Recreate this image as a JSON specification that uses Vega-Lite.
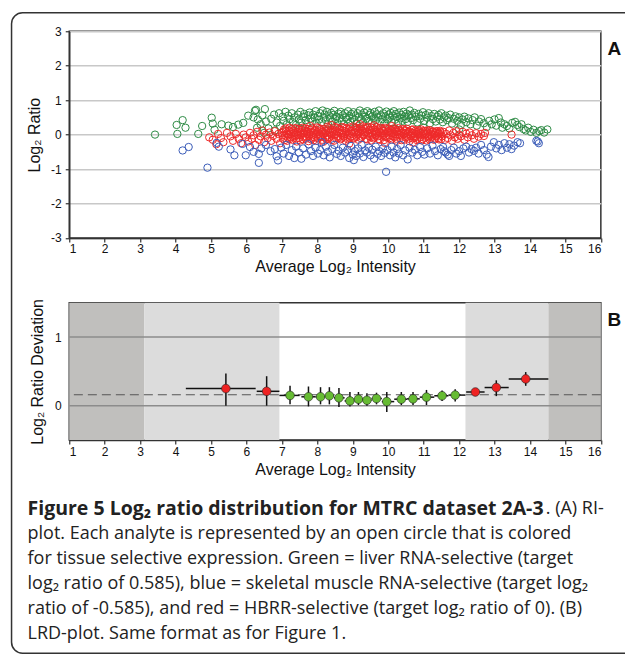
{
  "$schema": "https://vega.github.io/schema/vega-lite/v6.json",
  "background": "white",
  "padding": {"left": 9.25, "top": 11.25, "right": -18, "bottom": 0},
  "bounds": "flush",
  "spacing": 64.5,
  "config": {
    "font": "Liberation Sans",
    "view": {"stroke": "#333333", "strokeWidth": 1.5},
    "axis": {
      "labelFont": "Liberation Sans", "labelFontSize": 12, "labelColor": "#111111", "labelOverlap": false, "labelExpr": "'' + datum.value",
      "titleFont": "Liberation Sans", "titleFontSize": 16, "titleFontWeight": "normal", "titleColor": "#111111",
      "domainColor": "#333333", "domainWidth": 1.5, "tickColor": "#333333", "tickWidth": 1.2, "tickSize": 4
    }
  },
  "datasets": {
    "ri": [
      {"x":3.42,"y":0.00,"c":"G"},{"x":4.03,"y":0.28,"c":"G"},{"x":4.05,"y":0.02,"c":"G"},{"x":4.20,"y":0.42,"c":"G"},{"x":4.28,"y":0.20,"c":"G"},
      {"x":4.64,"y":0.02,"c":"G"},{"x":4.75,"y":0.25,"c":"G"},{"x":5.02,"y":0.49,"c":"G"},{"x":5.05,"y":0.32,"c":"G"},{"x":5.10,"y":0.14,"c":"G"},
      {"x":5.30,"y":0.30,"c":"G"},{"x":5.49,"y":0.26,"c":"G"},{"x":5.62,"y":0.22,"c":"G"},{"x":5.77,"y":0.29,"c":"G"},{"x":5.91,"y":0.34,"c":"G"},
      {"x":6.05,"y":0.55,"c":"G"},{"x":6.20,"y":0.50,"c":"G"},{"x":6.24,"y":0.69,"c":"G"},{"x":6.27,"y":0.72,"c":"G"},{"x":6.32,"y":0.44,"c":"G"},
      {"x":6.40,"y":0.30,"c":"G"},{"x":6.45,"y":0.56,"c":"G"},{"x":6.52,"y":0.74,"c":"G"},{"x":6.55,"y":0.38,"c":"G"},{"x":6.62,"y":0.18,"c":"G"},
      {"x":6.70,"y":0.46,"c":"G"},{"x":6.78,"y":0.58,"c":"G"},{"x":6.85,"y":0.35,"c":"G"},{"x":6.92,"y":0.62,"c":"G"},{"x":6.95,"y":0.25,"c":"G"},
      {"x":6.30,"y":0.20,"c":"G"},{"x":6.50,"y":0.05,"c":"G"},{"x":6.80,"y":0.12,"c":"G"},
      {"x":7.02,"y":0.52,"c":"G"},{"x":7.05,"y":0.40,"c":"G"},{"x":7.10,"y":0.66,"c":"G"},{"x":7.14,"y":0.30,"c":"G"},{"x":7.18,"y":0.55,"c":"G"},
      {"x":7.22,"y":0.45,"c":"G"},{"x":7.28,"y":0.62,"c":"G"},{"x":7.31,"y":0.36,"c":"G"},{"x":7.36,"y":0.50,"c":"G"},{"x":7.40,"y":0.28,"c":"G"},
      {"x":7.45,"y":0.58,"c":"G"},{"x":7.48,"y":0.44,"c":"G"},{"x":7.52,"y":0.66,"c":"G"},{"x":7.55,"y":0.35,"c":"G"},{"x":7.60,"y":0.52,"c":"G"},
      {"x":7.63,"y":0.60,"c":"G"},{"x":7.67,"y":0.42,"c":"G"},{"x":7.70,"y":0.30,"c":"G"},{"x":7.74,"y":0.56,"c":"G"},{"x":7.78,"y":0.64,"c":"G"},
      {"x":7.81,"y":0.47,"c":"G"},{"x":7.85,"y":0.38,"c":"G"},{"x":7.88,"y":0.58,"c":"G"},{"x":7.92,"y":0.50,"c":"G"},{"x":7.95,"y":0.68,"c":"G"},
      {"x":7.98,"y":0.33,"c":"G"},{"x":7.50,"y":0.18,"c":"G"},
      {"x":8.02,"y":0.54,"c":"G"},{"x":8.05,"y":0.44,"c":"G"},{"x":8.08,"y":0.62,"c":"G"},{"x":8.12,"y":0.36,"c":"G"},{"x":8.15,"y":0.70,"c":"G"},
      {"x":8.18,"y":0.50,"c":"G"},{"x":8.21,"y":0.58,"c":"G"},{"x":8.24,"y":0.42,"c":"G"},{"x":8.27,"y":0.66,"c":"G"},{"x":8.30,"y":0.30,"c":"G"},
      {"x":8.33,"y":0.55,"c":"G"},{"x":8.36,"y":0.47,"c":"G"},{"x":8.39,"y":0.63,"c":"G"},{"x":8.42,"y":0.38,"c":"G"},{"x":8.45,"y":0.57,"c":"G"},
      {"x":8.48,"y":0.69,"c":"G"},{"x":8.51,"y":0.45,"c":"G"},{"x":8.54,"y":0.52,"c":"G"},{"x":8.57,"y":0.34,"c":"G"},{"x":8.60,"y":0.61,"c":"G"},
      {"x":8.63,"y":0.48,"c":"G"},{"x":8.66,"y":0.66,"c":"G"},{"x":8.69,"y":0.40,"c":"G"},{"x":8.72,"y":0.56,"c":"G"},{"x":8.75,"y":0.30,"c":"G"},
      {"x":8.78,"y":0.62,"c":"G"},{"x":8.81,"y":0.50,"c":"G"},{"x":8.84,"y":0.44,"c":"G"},{"x":8.87,"y":0.68,"c":"G"},{"x":8.90,"y":0.54,"c":"G"},
      {"x":8.93,"y":0.37,"c":"G"},{"x":8.96,"y":0.60,"c":"G"},{"x":8.99,"y":0.47,"c":"G"},{"x":8.30,"y":0.15,"c":"G"},
      {"x":9.02,"y":0.65,"c":"G"},{"x":9.05,"y":0.42,"c":"G"},{"x":9.08,"y":0.55,"c":"G"},{"x":9.11,"y":0.32,"c":"G"},{"x":9.14,"y":0.62,"c":"G"},
      {"x":9.17,"y":0.50,"c":"G"},{"x":9.20,"y":0.70,"c":"G"},{"x":9.23,"y":0.44,"c":"G"},{"x":9.26,"y":0.58,"c":"G"},{"x":9.29,"y":0.36,"c":"G"},
      {"x":9.32,"y":0.64,"c":"G"},{"x":9.35,"y":0.52,"c":"G"},{"x":9.38,"y":0.46,"c":"G"},{"x":9.41,"y":0.68,"c":"G"},{"x":9.44,"y":0.40,"c":"G"},
      {"x":9.47,"y":0.57,"c":"G"},{"x":9.50,"y":0.63,"c":"G"},{"x":9.53,"y":0.33,"c":"G"},{"x":9.56,"y":0.54,"c":"G"},{"x":9.59,"y":0.48,"c":"G"},
      {"x":9.62,"y":0.66,"c":"G"},{"x":9.65,"y":0.42,"c":"G"},{"x":9.68,"y":0.59,"c":"G"},{"x":9.71,"y":0.50,"c":"G"},{"x":9.74,"y":0.70,"c":"G"},
      {"x":9.77,"y":0.38,"c":"G"},{"x":9.80,"y":0.56,"c":"G"},{"x":9.83,"y":0.45,"c":"G"},{"x":9.86,"y":0.62,"c":"G"},{"x":9.89,"y":0.31,"c":"G"},
      {"x":9.92,"y":0.53,"c":"G"},{"x":9.95,"y":0.67,"c":"G"},{"x":9.98,"y":0.44,"c":"G"},{"x":9.10,"y":0.20,"c":"G"},
      {"x":10.01,"y":0.58,"c":"G"},{"x":10.04,"y":0.49,"c":"G"},{"x":10.07,"y":0.63,"c":"G"},{"x":10.10,"y":0.36,"c":"G"},{"x":10.13,"y":0.55,"c":"G"},
      {"x":10.16,"y":0.68,"c":"G"},{"x":10.19,"y":0.43,"c":"G"},{"x":10.22,"y":0.60,"c":"G"},{"x":10.25,"y":0.51,"c":"G"},{"x":10.28,"y":0.34,"c":"G"},
      {"x":10.31,"y":0.64,"c":"G"},{"x":10.34,"y":0.47,"c":"G"},{"x":10.37,"y":0.57,"c":"G"},{"x":10.40,"y":0.40,"c":"G"},{"x":10.43,"y":0.66,"c":"G"},
      {"x":10.46,"y":0.53,"c":"G"},{"x":10.49,"y":0.45,"c":"G"},{"x":10.52,"y":0.61,"c":"G"},{"x":10.55,"y":0.37,"c":"G"},{"x":10.58,"y":0.56,"c":"G"},
      {"x":10.61,"y":0.70,"c":"G"},{"x":10.64,"y":0.48,"c":"G"},{"x":10.67,"y":0.58,"c":"G"},{"x":10.70,"y":0.42,"c":"G"},{"x":10.74,"y":0.63,"c":"G"},
      {"x":10.78,"y":0.52,"c":"G"},{"x":10.82,"y":0.35,"c":"G"},{"x":10.86,"y":0.60,"c":"G"},{"x":10.90,"y":0.46,"c":"G"},{"x":10.94,"y":0.55,"c":"G"},
      {"x":10.98,"y":0.65,"c":"G"},{"x":10.20,"y":0.17,"c":"G"},
      {"x":11.02,"y":0.40,"c":"G"},{"x":11.06,"y":0.57,"c":"G"},{"x":11.10,"y":0.49,"c":"G"},{"x":11.14,"y":0.62,"c":"G"},{"x":11.18,"y":0.33,"c":"G"},
      {"x":11.22,"y":0.54,"c":"G"},{"x":11.26,"y":0.45,"c":"G"},{"x":11.30,"y":0.60,"c":"G"},{"x":11.34,"y":0.38,"c":"G"},{"x":11.38,"y":0.52,"c":"G"},
      {"x":11.42,"y":0.57,"c":"G"},{"x":11.46,"y":0.44,"c":"G"},{"x":11.50,"y":0.62,"c":"G"},{"x":11.54,"y":0.36,"c":"G"},{"x":11.58,"y":0.50,"c":"G"},
      {"x":11.62,"y":0.55,"c":"G"},{"x":11.66,"y":0.42,"c":"G"},{"x":11.70,"y":0.48,"c":"G"},{"x":11.75,"y":0.58,"c":"G"},{"x":11.80,"y":0.32,"c":"G"},
      {"x":11.85,"y":0.46,"c":"G"},{"x":11.90,"y":0.53,"c":"G"},{"x":11.95,"y":0.40,"c":"G"},{"x":11.00,"y":0.20,"c":"G"},
      {"x":12.00,"y":0.50,"c":"G"},{"x":12.05,"y":0.28,"c":"G"},{"x":12.10,"y":0.44,"c":"G"},{"x":12.15,"y":0.52,"c":"G"},{"x":12.20,"y":0.36,"c":"G"},
      {"x":12.26,"y":0.47,"c":"G"},{"x":12.32,"y":0.30,"c":"G"},{"x":12.38,"y":0.42,"c":"G"},{"x":12.44,"y":0.50,"c":"G"},{"x":12.50,"y":0.26,"c":"G"},
      {"x":12.56,"y":0.38,"c":"G"},{"x":12.62,"y":0.45,"c":"G"},{"x":12.70,"y":0.33,"c":"G"},{"x":12.78,"y":0.22,"c":"G"},{"x":12.85,"y":0.40,"c":"G"},
      {"x":12.92,"y":0.30,"c":"G"},{"x":12.00,"y":0.15,"c":"G"},
      {"x":13.00,"y":0.44,"c":"G"},{"x":13.05,"y":0.26,"c":"G"},{"x":13.12,"y":0.48,"c":"G"},{"x":13.18,"y":0.35,"c":"G"},{"x":13.22,"y":0.20,"c":"G"},
      {"x":13.28,"y":0.30,"c":"G"},{"x":13.35,"y":0.25,"c":"G"},{"x":13.42,"y":0.18,"c":"G"},{"x":13.50,"y":0.34,"c":"G"},{"x":13.58,"y":0.37,"c":"G"},
      {"x":13.64,"y":0.28,"c":"G"},{"x":13.70,"y":0.22,"c":"G"},{"x":13.76,"y":0.30,"c":"G"},{"x":13.82,"y":0.16,"c":"G"},{"x":13.88,"y":0.12,"c":"G"},
      {"x":13.95,"y":0.20,"c":"G"},{"x":14.02,"y":0.08,"c":"G"},{"x":14.10,"y":0.14,"c":"G"},{"x":14.18,"y":0.05,"c":"G"},{"x":14.26,"y":0.10,"c":"G"},
      {"x":14.32,"y":0.13,"c":"G"},{"x":14.40,"y":0.06,"c":"G"},{"x":14.49,"y":0.15,"c":"G"},

      {"x":4.95,"y":-0.08,"c":"R"},{"x":5.05,"y":-0.15,"c":"R"},{"x":5.15,"y":-0.28,"c":"R"},{"x":5.20,"y":0.02,"c":"R"},{"x":5.28,"y":-0.10,"c":"R"},
      {"x":5.35,"y":-0.22,"c":"R"},{"x":5.45,"y":0.05,"c":"R"},{"x":5.55,"y":-0.05,"c":"R"},{"x":5.62,"y":-0.18,"c":"R"},{"x":5.70,"y":0.02,"c":"R"},
      {"x":5.78,"y":-0.12,"c":"R"},{"x":5.85,"y":-0.25,"c":"R"},{"x":5.92,"y":0.00,"c":"R"},{"x":5.98,"y":-0.08,"c":"R"},{"x":6.05,"y":-0.20,"c":"R"},
      {"x":6.10,"y":0.05,"c":"R"},{"x":6.15,"y":-0.12,"c":"R"},{"x":6.20,"y":-0.02,"c":"R"},{"x":6.25,"y":-0.30,"c":"R"},{"x":6.30,"y":0.08,"c":"R"},
      {"x":6.35,"y":-0.15,"c":"R"},{"x":6.40,"y":-0.05,"c":"R"},{"x":6.45,"y":0.12,"c":"R"},{"x":6.50,"y":-0.22,"c":"R"},{"x":6.55,"y":0.00,"c":"R"},
      {"x":6.60,"y":-0.10,"c":"R"},{"x":6.65,"y":0.06,"c":"R"},{"x":6.70,"y":-0.18,"c":"R"},{"x":6.75,"y":-0.04,"c":"R"},{"x":6.80,"y":0.10,"c":"R"},
      {"x":6.85,"y":-0.12,"c":"R"},{"x":6.90,"y":0.02,"c":"R"},{"x":6.95,"y":-0.25,"c":"R"},
      {"x":7.00,"y":0.05,"c":"R"},{"x":7.03,"y":-0.12,"c":"R"},{"x":7.06,"y":0.15,"c":"R"},{"x":7.09,"y":-0.03,"c":"R"},{"x":7.12,"y":0.10,"c":"R"},
      {"x":7.15,"y":-0.18,"c":"R"},{"x":7.18,"y":0.00,"c":"R"},{"x":7.21,"y":0.20,"c":"R"},{"x":7.24,"y":-0.08,"c":"R"},{"x":7.27,"y":0.07,"c":"R"},
      {"x":7.30,"y":-0.15,"c":"R"},{"x":7.33,"y":0.12,"c":"R"},{"x":7.36,"y":-0.05,"c":"R"},{"x":7.39,"y":0.03,"c":"R"},{"x":7.42,"y":-0.20,"c":"R"},
      {"x":7.45,"y":0.17,"c":"R"},{"x":7.48,"y":-0.10,"c":"R"},{"x":7.51,"y":0.08,"c":"R"},{"x":7.54,"y":-0.01,"c":"R"},{"x":7.57,"y":0.13,"c":"R"},
      {"x":7.60,"y":-0.14,"c":"R"},{"x":7.63,"y":0.04,"c":"R"},{"x":7.66,"y":0.18,"c":"R"},{"x":7.69,"y":-0.06,"c":"R"},{"x":7.72,"y":0.09,"c":"R"},
      {"x":7.75,"y":-0.19,"c":"R"},{"x":7.78,"y":0.01,"c":"R"},{"x":7.81,"y":0.14,"c":"R"},{"x":7.84,"y":-0.09,"c":"R"},{"x":7.87,"y":0.06,"c":"R"},
      {"x":7.90,"y":-0.16,"c":"R"},{"x":7.93,"y":0.11,"c":"R"},{"x":7.96,"y":-0.03,"c":"R"},{"x":7.99,"y":0.21,"c":"R"},{"x":7.80,"y":0.25,"c":"R"},
      {"x":8.02,"y":-0.11,"c":"R"},{"x":8.05,"y":0.02,"c":"R"},{"x":8.08,"y":0.16,"c":"R"},{"x":8.11,"y":-0.07,"c":"R"},{"x":8.14,"y":0.08,"c":"R"},
      {"x":8.17,"y":-0.21,"c":"R"},{"x":8.20,"y":0.05,"c":"R"},{"x":8.23,"y":0.12,"c":"R"},{"x":8.26,"y":-0.13,"c":"R"},{"x":8.29,"y":-0.02,"c":"R"},
      {"x":8.32,"y":0.19,"c":"R"},{"x":8.35,"y":-0.08,"c":"R"},{"x":8.38,"y":0.06,"c":"R"},{"x":8.41,"y":-0.16,"c":"R"},{"x":8.44,"y":0.14,"c":"R"},
      {"x":8.47,"y":0.00,"c":"R"},{"x":8.50,"y":0.22,"c":"R"},{"x":8.53,"y":-0.10,"c":"R"},{"x":8.56,"y":0.09,"c":"R"},{"x":8.59,"y":-0.04,"c":"R"},
      {"x":8.62,"y":0.17,"c":"R"},{"x":8.65,"y":-0.14,"c":"R"},{"x":8.68,"y":0.03,"c":"R"},{"x":8.71,"y":0.12,"c":"R"},{"x":8.74,"y":-0.06,"c":"R"},
      {"x":8.77,"y":0.20,"c":"R"},{"x":8.80,"y":-0.18,"c":"R"},{"x":8.83,"y":0.07,"c":"R"},{"x":8.86,"y":-0.01,"c":"R"},{"x":8.89,"y":0.15,"c":"R"},
      {"x":8.92,"y":-0.11,"c":"R"},{"x":8.95,"y":0.10,"c":"R"},{"x":8.98,"y":0.02,"c":"R"},{"x":8.40,"y":0.28,"c":"R"},{"x":8.90,"y":-0.26,"c":"R"},
      {"x":9.01,"y":0.24,"c":"R"},{"x":9.04,"y":-0.09,"c":"R"},{"x":9.07,"y":0.13,"c":"R"},{"x":9.10,"y":-0.03,"c":"R"},{"x":9.13,"y":0.18,"c":"R"},
      {"x":9.16,"y":-0.15,"c":"R"},{"x":9.19,"y":0.06,"c":"R"},{"x":9.22,"y":0.21,"c":"R"},{"x":9.25,"y":-0.06,"c":"R"},{"x":9.28,"y":0.11,"c":"R"},
      {"x":9.31,"y":0.01,"c":"R"},{"x":9.34,"y":0.16,"c":"R"},{"x":9.37,"y":-0.12,"c":"R"},{"x":9.40,"y":0.08,"c":"R"},{"x":9.43,"y":0.23,"c":"R"},
      {"x":9.46,"y":-0.04,"c":"R"},{"x":9.49,"y":0.14,"c":"R"},{"x":9.52,"y":-0.17,"c":"R"},{"x":9.55,"y":0.05,"c":"R"},{"x":9.58,"y":0.19,"c":"R"},
      {"x":9.61,"y":-0.08,"c":"R"},{"x":9.64,"y":0.10,"c":"R"},{"x":9.67,"y":-0.01,"c":"R"},{"x":9.70,"y":0.15,"c":"R"},{"x":9.73,"y":-0.13,"c":"R"},
      {"x":9.76,"y":0.07,"c":"R"},{"x":9.79,"y":0.20,"c":"R"},{"x":9.82,"y":-0.05,"c":"R"},{"x":9.85,"y":0.12,"c":"R"},{"x":9.88,"y":-0.16,"c":"R"},
      {"x":9.91,"y":0.03,"c":"R"},{"x":9.94,"y":0.17,"c":"R"},{"x":9.97,"y":-0.09,"c":"R"},{"x":9.20,"y":0.30,"c":"R"},{"x":9.60,"y":0.27,"c":"R"},{"x":9.90,"y":-0.24,"c":"R"},
      {"x":10.00,"y":0.09,"c":"R"},{"x":10.03,"y":-0.02,"c":"R"},{"x":10.06,"y":0.14,"c":"R"},{"x":10.09,"y":-0.14,"c":"R"},{"x":10.12,"y":0.04,"c":"R"},
      {"x":10.15,"y":0.18,"c":"R"},{"x":10.18,"y":-0.07,"c":"R"},{"x":10.21,"y":0.10,"c":"R"},{"x":10.24,"y":-0.18,"c":"R"},{"x":10.27,"y":0.01,"c":"R"},
      {"x":10.30,"y":0.13,"c":"R"},{"x":10.33,"y":-0.10,"c":"R"},{"x":10.36,"y":0.06,"c":"R"},{"x":10.39,"y":-0.03,"c":"R"},{"x":10.42,"y":0.16,"c":"R"},
      {"x":10.45,"y":-0.15,"c":"R"},{"x":10.48,"y":0.05,"c":"R"},{"x":10.51,"y":0.11,"c":"R"},{"x":10.54,"y":-0.06,"c":"R"},{"x":10.57,"y":0.08,"c":"R"},
      {"x":10.60,"y":-0.19,"c":"R"},{"x":10.63,"y":0.00,"c":"R"},{"x":10.66,"y":0.14,"c":"R"},{"x":10.69,"y":-0.11,"c":"R"},{"x":10.72,"y":0.04,"c":"R"},
      {"x":10.75,"y":-0.04,"c":"R"},{"x":10.78,"y":0.12,"c":"R"},{"x":10.81,"y":-0.16,"c":"R"},{"x":10.84,"y":0.02,"c":"R"},{"x":10.87,"y":0.09,"c":"R"},
      {"x":10.90,"y":-0.08,"c":"R"},{"x":10.93,"y":0.15,"c":"R"},{"x":10.96,"y":-0.13,"c":"R"},{"x":10.99,"y":0.03,"c":"R"},{"x":10.10,"y":0.25,"c":"R"},{"x":10.70,"y":-0.23,"c":"R"},
      {"x":11.02,"y":-0.02,"c":"R"},{"x":11.05,"y":0.11,"c":"R"},{"x":11.08,"y":-0.17,"c":"R"},{"x":11.11,"y":0.06,"c":"R"},{"x":11.14,"y":-0.07,"c":"R"},
      {"x":11.17,"y":0.13,"c":"R"},{"x":11.20,"y":-0.12,"c":"R"},{"x":11.23,"y":0.01,"c":"R"},{"x":11.26,"y":0.08,"c":"R"},{"x":11.29,"y":-0.15,"c":"R"},
      {"x":11.32,"y":0.04,"c":"R"},{"x":11.35,"y":-0.05,"c":"R"},{"x":11.38,"y":0.10,"c":"R"},{"x":11.41,"y":-0.10,"c":"R"},{"x":11.44,"y":0.02,"c":"R"},
      {"x":11.47,"y":0.07,"c":"R"},{"x":11.50,"y":-0.13,"c":"R"},
      {"x":7.015,"y":-0.02,"c":"R"},{"x":7.045,"y":0.09,"c":"R"},{"x":7.075,"y":-0.16,"c":"R"},{"x":7.105,"y":0.18,"c":"R"},{"x":7.135,"y":0.03,"c":"R"},
      {"x":7.165,"y":-0.09,"c":"R"},{"x":7.195,"y":0.12,"c":"R"},{"x":7.225,"y":-0.13,"c":"R"},{"x":7.255,"y":0.01,"c":"R"},{"x":7.285,"y":0.16,"c":"R"},
      {"x":7.315,"y":-0.06,"c":"R"},{"x":7.345,"y":0.05,"c":"R"},{"x":7.375,"y":0.19,"c":"R"},{"x":7.405,"y":-0.11,"c":"R"},{"x":7.435,"y":0.07,"c":"R"},
      {"x":7.465,"y":-0.02,"c":"R"},{"x":7.495,"y":0.14,"c":"R"},{"x":7.525,"y":-0.17,"c":"R"},{"x":7.555,"y":0.04,"c":"R"},{"x":7.585,"y":0.20,"c":"R"},
      {"x":7.615,"y":-0.07,"c":"R"},{"x":7.645,"y":0.10,"c":"R"},{"x":7.675,"y":-0.12,"c":"R"},{"x":7.705,"y":0.02,"c":"R"},{"x":7.735,"y":0.16,"c":"R"},
      {"x":7.765,"y":-0.04,"c":"R"},{"x":7.795,"y":0.08,"c":"R"},{"x":7.825,"y":-0.14,"c":"R"},{"x":7.855,"y":0.18,"c":"R"},{"x":7.885,"y":0.00,"c":"R"},
      {"x":7.915,"y":-0.08,"c":"R"},{"x":7.945,"y":0.13,"c":"R"},{"x":7.975,"y":-0.18,"c":"R"},
      {"x":8.015,"y":0.07,"c":"R"},{"x":8.045,"y":0.19,"c":"R"},{"x":8.075,"y":-0.05,"c":"R"},{"x":8.105,"y":0.12,"c":"R"},{"x":8.135,"y":-0.15,"c":"R"},
      {"x":8.165,"y":0.01,"c":"R"},{"x":8.195,"y":0.17,"c":"R"},{"x":8.225,"y":-0.09,"c":"R"},{"x":8.255,"y":0.09,"c":"R"},{"x":8.285,"y":0.23,"c":"R"},
      {"x":8.315,"y":-0.12,"c":"R"},{"x":8.345,"y":0.04,"c":"R"},{"x":8.375,"y":0.15,"c":"R"},{"x":8.405,"y":-0.03,"c":"R"},{"x":8.435,"y":0.08,"c":"R"},
      {"x":8.465,"y":-0.18,"c":"R"},{"x":8.495,"y":0.11,"c":"R"},{"x":8.525,"y":0.02,"c":"R"},{"x":8.555,"y":0.20,"c":"R"},{"x":8.585,"y":-0.09,"c":"R"},
      {"x":8.615,"y":0.05,"c":"R"},{"x":8.645,"y":0.13,"c":"R"},{"x":8.675,"y":-0.11,"c":"R"},{"x":8.705,"y":0.22,"c":"R"},{"x":8.735,"y":0.00,"c":"R"},
      {"x":8.765,"y":-0.06,"c":"R"},{"x":8.795,"y":0.10,"c":"R"},{"x":8.825,"y":0.18,"c":"R"},{"x":8.855,"y":-0.13,"c":"R"},{"x":8.885,"y":0.04,"c":"R"},
      {"x":8.915,"y":0.21,"c":"R"},{"x":8.945,"y":-0.05,"c":"R"},{"x":8.975,"y":0.12,"c":"R"},
      {"x":9.015,"y":-0.12,"c":"R"},{"x":9.045,"y":0.06,"c":"R"},{"x":9.075,"y":0.20,"c":"R"},{"x":9.105,"y":-0.07,"c":"R"},{"x":9.135,"y":0.09,"c":"R"},
      {"x":9.165,"y":0.02,"c":"R"},{"x":9.195,"y":0.17,"c":"R"},{"x":9.225,"y":-0.10,"c":"R"},{"x":9.255,"y":0.13,"c":"R"},{"x":9.285,"y":0.24,"c":"R"},
      {"x":9.315,"y":-0.02,"c":"R"},{"x":9.345,"y":0.07,"c":"R"},{"x":9.375,"y":0.19,"c":"R"},{"x":9.405,"y":-0.14,"c":"R"},{"x":9.435,"y":0.03,"c":"R"},
      {"x":9.465,"y":0.12,"c":"R"},{"x":9.495,"y":-0.07,"c":"R"},{"x":9.525,"y":0.21,"c":"R"},{"x":9.555,"y":0.00,"c":"R"},{"x":9.585,"y":-0.11,"c":"R"},
      {"x":9.615,"y":0.14,"c":"R"},{"x":9.645,"y":0.06,"c":"R"},{"x":9.675,"y":0.22,"c":"R"},{"x":9.705,"y":-0.05,"c":"R"},{"x":9.735,"y":0.09,"c":"R"},
      {"x":9.765,"y":-0.15,"c":"R"},{"x":9.795,"y":0.04,"c":"R"},{"x":9.825,"y":0.16,"c":"R"},{"x":9.855,"y":-0.02,"c":"R"},{"x":9.885,"y":0.11,"c":"R"},
      {"x":9.915,"y":0.20,"c":"R"},{"x":9.945,"y":-0.07,"c":"R"},{"x":9.975,"y":0.06,"c":"R"},
      {"x":10.015,"y":0.17,"c":"R"},{"x":10.045,"y":-0.10,"c":"R"},{"x":10.075,"y":0.05,"c":"R"},{"x":10.105,"y":0.12,"c":"R"},{"x":10.135,"y":-0.05,"c":"R"},
      {"x":10.165,"y":0.02,"c":"R"},{"x":10.195,"y":0.15,"c":"R"},{"x":10.225,"y":-0.12,"c":"R"},{"x":10.255,"y":0.08,"c":"R"},{"x":10.285,"y":0.19,"c":"R"},
      {"x":10.315,"y":-0.01,"c":"R"},{"x":10.345,"y":0.10,"c":"R"},{"x":10.375,"y":-0.16,"c":"R"},{"x":10.405,"y":0.06,"c":"R"},{"x":10.435,"y":0.01,"c":"R"},
      {"x":10.465,"y":0.13,"c":"R"},{"x":10.495,"y":-0.08,"c":"R"},{"x":10.525,"y":0.17,"c":"R"},{"x":10.555,"y":0.03,"c":"R"},{"x":10.585,"y":-0.12,"c":"R"},
      {"x":10.615,"y":0.09,"c":"R"},{"x":10.645,"y":-0.04,"c":"R"},{"x":10.675,"y":0.05,"c":"R"},{"x":10.705,"y":0.15,"c":"R"},{"x":10.735,"y":-0.09,"c":"R"},
      {"x":10.765,"y":0.01,"c":"R"},{"x":10.795,"y":0.07,"c":"R"},{"x":10.825,"y":-0.12,"c":"R"},{"x":10.855,"y":0.13,"c":"R"},{"x":10.885,"y":-0.02,"c":"R"},
      {"x":10.915,"y":0.05,"c":"R"},{"x":10.945,"y":-0.17,"c":"R"},{"x":10.975,"y":0.10,"c":"R"},
      {"x":11.015,"y":0.06,"c":"R"},{"x":11.045,"y":-0.09,"c":"R"},{"x":11.075,"y":0.03,"c":"R"},{"x":11.105,"y":0.12,"c":"R"},{"x":11.135,"y":-0.04,"c":"R"},
      {"x":11.165,"y":-0.14,"c":"R"},{"x":11.195,"y":0.07,"c":"R"},{"x":11.225,"y":-0.06,"c":"R"},{"x":11.255,"y":0.10,"c":"R"},{"x":11.285,"y":0.00,"c":"R"},
      {"x":11.315,"y":-0.11,"c":"R"},{"x":11.345,"y":0.09,"c":"R"},{"x":11.375,"y":-0.03,"c":"R"},{"x":11.405,"y":0.05,"c":"R"},{"x":11.435,"y":-0.14,"c":"R"},
      {"x":11.465,"y":0.11,"c":"R"},{"x":11.495,"y":0.01,"c":"R"},
      {"x":11.52,"y":-0.05,"c":"R"},{"x":11.56,"y":0.08,"c":"R"},{"x":11.60,"y":-0.15,"c":"R"},{"x":11.64,"y":0.02,"c":"R"},{"x":11.68,"y":-0.10,"c":"R"},
      {"x":11.72,"y":0.12,"c":"R"},{"x":11.76,"y":-0.02,"c":"R"},{"x":11.80,"y":-0.18,"c":"R"},{"x":11.84,"y":0.05,"c":"R"},{"x":11.88,"y":-0.08,"c":"R"},
      {"x":11.92,"y":0.10,"c":"R"},{"x":11.96,"y":-0.12,"c":"R"},{"x":12.00,"y":0.00,"c":"R"},{"x":12.05,"y":-0.05,"c":"R"},{"x":12.10,"y":0.08,"c":"R"},
      {"x":12.15,"y":-0.15,"c":"R"},{"x":12.20,"y":0.03,"c":"R"},{"x":12.25,"y":-0.08,"c":"R"},{"x":12.30,"y":0.06,"c":"R"},{"x":12.36,"y":-0.02,"c":"R"},
      {"x":12.42,"y":-0.12,"c":"R"},{"x":12.48,"y":0.04,"c":"R"},{"x":12.55,"y":-0.06,"c":"R"},{"x":12.62,"y":0.02,"c":"R"},{"x":12.70,"y":-0.04,"c":"R"},
      {"x":12.73,"y":0.05,"c":"R"},{"x":13.48,"y":0.00,"c":"R"},

      {"x":4.20,"y":-0.46,"c":"B"},{"x":4.37,"y":-0.36,"c":"B"},{"x":4.90,"y":-0.96,"c":"B"},{"x":5.16,"y":-0.24,"c":"B"},{"x":5.22,"y":-0.35,"c":"B"},
      {"x":5.55,"y":-0.43,"c":"B"},{"x":5.66,"y":-0.60,"c":"B"},{"x":5.89,"y":-0.27,"c":"B"},{"x":5.98,"y":-0.60,"c":"B"},{"x":6.10,"y":-0.36,"c":"B"},
      {"x":6.20,"y":-0.50,"c":"B"},{"x":6.35,"y":-0.56,"c":"B"},{"x":6.35,"y":-0.82,"c":"B"},{"x":6.42,"y":-0.40,"c":"B"},{"x":6.55,"y":-0.30,"c":"B"},
      {"x":6.68,"y":-0.48,"c":"B"},{"x":6.80,"y":-0.42,"c":"B"},{"x":6.85,"y":-0.63,"c":"B"},{"x":6.89,"y":-0.75,"c":"B"},{"x":6.98,"y":-0.38,"c":"B"},
      {"x":7.05,"y":-0.55,"c":"B"},{"x":7.12,"y":-0.30,"c":"B"},{"x":7.20,"y":-0.62,"c":"B"},{"x":7.28,"y":-0.45,"c":"B"},{"x":7.35,"y":-0.68,"c":"B"},
      {"x":7.40,"y":-0.35,"c":"B"},{"x":7.48,"y":-0.52,"c":"B"},{"x":7.55,"y":-0.70,"c":"B"},{"x":7.60,"y":-0.40,"c":"B"},{"x":7.68,"y":-0.58,"c":"B"},
      {"x":7.75,"y":-0.28,"c":"B"},{"x":7.82,"y":-0.48,"c":"B"},{"x":7.88,"y":-0.62,"c":"B"},{"x":7.95,"y":-0.38,"c":"B"},{"x":8.02,"y":-0.55,"c":"B"},
      {"x":8.08,"y":-0.45,"c":"B"},{"x":8.12,"y":-0.22,"c":"B"},{"x":8.18,"y":-0.60,"c":"B"},{"x":8.24,"y":-0.35,"c":"B"},{"x":8.30,"y":-0.50,"c":"B"},
      {"x":8.35,"y":-0.66,"c":"B"},{"x":8.42,"y":-0.42,"c":"B"},{"x":8.48,"y":-0.30,"c":"B"},{"x":8.55,"y":-0.56,"c":"B"},{"x":8.60,"y":-0.47,"c":"B"},
      {"x":8.66,"y":-0.62,"c":"B"},{"x":8.72,"y":-0.38,"c":"B"},{"x":8.78,"y":-0.52,"c":"B"},{"x":8.85,"y":-0.44,"c":"B"},{"x":8.90,"y":-0.68,"c":"B"},
      {"x":8.95,"y":-0.33,"c":"B"},{"x":9.00,"y":-0.58,"c":"B"},{"x":9.03,"y":-0.74,"c":"B"},{"x":9.06,"y":-0.48,"c":"B"},{"x":9.10,"y":-0.62,"c":"B"},
      {"x":9.15,"y":-0.40,"c":"B"},{"x":9.20,"y":-0.55,"c":"B"},{"x":9.25,"y":-0.30,"c":"B"},{"x":9.30,"y":-0.65,"c":"B"},{"x":9.35,"y":-0.46,"c":"B"},
      {"x":9.40,"y":-0.52,"c":"B"},{"x":9.45,"y":-0.38,"c":"B"},{"x":9.50,"y":-0.60,"c":"B"},{"x":9.55,"y":-0.44,"c":"B"},{"x":9.60,"y":-0.70,"c":"B"},
      {"x":9.65,"y":-0.35,"c":"B"},{"x":9.70,"y":-0.56,"c":"B"},{"x":9.75,"y":-0.48,"c":"B"},{"x":9.80,"y":-0.62,"c":"B"},{"x":9.85,"y":-0.40,"c":"B"},
      {"x":9.90,"y":-0.53,"c":"B"},{"x":9.94,"y":-1.08,"c":"B"},{"x":9.98,"y":-0.45,"c":"B"},{"x":10.05,"y":-0.60,"c":"B"},{"x":10.10,"y":-0.35,"c":"B"},
      {"x":10.15,"y":-0.52,"c":"B"},{"x":10.20,"y":-0.66,"c":"B"},{"x":10.25,"y":-0.42,"c":"B"},{"x":10.30,"y":-0.55,"c":"B"},{"x":10.35,"y":-0.30,"c":"B"},
      {"x":10.42,"y":-0.60,"c":"B"},{"x":10.48,"y":-0.46,"c":"B"},{"x":10.55,"y":-0.72,"c":"B"},{"x":10.60,"y":-0.38,"c":"B"},{"x":10.68,"y":-0.52,"c":"B"},
      {"x":10.75,"y":-0.44,"c":"B"},{"x":10.82,"y":-0.60,"c":"B"},{"x":10.90,"y":-0.36,"c":"B"},{"x":10.96,"y":-0.50,"c":"B"},{"x":11.02,"y":-0.58,"c":"B"},
      {"x":11.10,"y":-0.40,"c":"B"},{"x":11.18,"y":-0.55,"c":"B"},{"x":11.25,"y":-0.32,"c":"B"},{"x":11.32,"y":-0.48,"c":"B"},{"x":11.40,"y":-0.60,"c":"B"},
      {"x":11.48,"y":-0.42,"c":"B"},{"x":11.55,"y":-0.36,"c":"B"},{"x":11.58,"y":-0.48,"c":"B"},{"x":11.62,"y":-0.52,"c":"B"},{"x":11.68,"y":-0.58,"c":"B"},
      {"x":11.72,"y":-0.62,"c":"B"},{"x":11.78,"y":-0.45,"c":"B"},{"x":11.85,"y":-0.38,"c":"B"},{"x":11.92,"y":-0.55,"c":"B"},{"x":12.00,"y":-0.48,"c":"B"},
      {"x":12.05,"y":-0.62,"c":"B"},{"x":12.12,"y":-0.40,"c":"B"},{"x":12.20,"y":-0.35,"c":"B"},{"x":12.28,"y":-0.52,"c":"B"},{"x":12.35,"y":-0.42,"c":"B"},
      {"x":12.42,"y":-0.47,"c":"B"},{"x":12.48,"y":-0.38,"c":"B"},{"x":12.55,"y":-0.55,"c":"B"},{"x":12.62,"y":-0.30,"c":"B"},{"x":12.70,"y":-0.45,"c":"B"},
      {"x":12.78,"y":-0.58,"c":"B"},{"x":12.83,"y":-0.65,"c":"B"},{"x":12.90,"y":-0.35,"c":"B"},{"x":12.98,"y":-0.22,"c":"B"},{"x":13.05,"y":-0.40,"c":"B"},
      {"x":13.12,"y":-0.30,"c":"B"},{"x":13.20,"y":-0.45,"c":"B"},{"x":13.28,"y":-0.25,"c":"B"},{"x":13.35,"y":-0.38,"c":"B"},{"x":13.42,"y":-0.28,"c":"B"},
      {"x":13.48,"y":-0.42,"c":"B"},{"x":13.55,"y":-0.32,"c":"B"},{"x":13.65,"y":-0.22,"c":"B"},{"x":13.72,"y":-0.25,"c":"B"},{"x":14.18,"y":-0.18,"c":"B"},
      {"x":14.25,"y":-0.25,"c":"B"},{"x":14.22,"y":-0.20,"c":"B"}
    ],
    "lrd": [
      {"x":5.42,"y":0.25,"xlo":4.29,"xhi":6.26,"ylo":0.00,"yhi":0.47,"c":"R"},
      {"x":6.57,"y":0.21,"xlo":6.29,"xhi":6.93,"ylo":0.00,"yhi":0.43,"c":"R"},
      {"x":7.23,"y":0.15,"xlo":6.93,"xhi":7.50,"ylo":0.02,"yhi":0.29,"c":"G"},
      {"x":7.75,"y":0.13,"xlo":7.55,"xhi":7.95,"ylo":-0.01,"yhi":0.28,"c":"G"},
      {"x":8.09,"y":0.13,"xlo":7.95,"xhi":8.22,"ylo":0.02,"yhi":0.27,"c":"G"},
      {"x":8.34,"y":0.145,"xlo":8.22,"xhi":8.47,"ylo":0.02,"yhi":0.27,"c":"G"},
      {"x":8.61,"y":0.115,"xlo":8.47,"xhi":8.77,"ylo":-0.02,"yhi":0.26,"c":"G"},
      {"x":8.92,"y":0.07,"xlo":8.77,"xhi":9.04,"ylo":-0.01,"yhi":0.20,"c":"G"},
      {"x":9.16,"y":0.095,"xlo":9.04,"xhi":9.28,"ylo":0.01,"yhi":0.20,"c":"G"},
      {"x":9.40,"y":0.08,"xlo":9.28,"xhi":9.53,"ylo":0.00,"yhi":0.18,"c":"G"},
      {"x":9.67,"y":0.105,"xlo":9.53,"xhi":9.82,"ylo":0.02,"yhi":0.19,"c":"G"},
      {"x":9.96,"y":0.06,"xlo":9.82,"xhi":10.17,"ylo":-0.09,"yhi":0.20,"c":"G"},
      {"x":10.37,"y":0.095,"xlo":10.17,"xhi":10.53,"ylo":0.01,"yhi":0.20,"c":"G"},
      {"x":10.70,"y":0.10,"xlo":10.53,"xhi":10.89,"ylo":0.01,"yhi":0.20,"c":"G"},
      {"x":11.08,"y":0.125,"xlo":10.89,"xhi":11.30,"ylo":0.01,"yhi":0.23,"c":"G"},
      {"x":11.52,"y":0.145,"xlo":11.30,"xhi":11.70,"ylo":0.07,"yhi":0.22,"c":"G"},
      {"x":11.89,"y":0.155,"xlo":11.70,"xhi":12.18,"ylo":0.06,"yhi":0.24,"c":"G"},
      {"x":12.46,"y":0.20,"xlo":12.20,"xhi":12.72,"ylo":0.14,"yhi":0.25,"c":"R"},
      {"x":13.05,"y":0.265,"xlo":12.72,"xhi":13.40,"ylo":0.14,"yhi":0.37,"c":"R"},
      {"x":13.88,"y":0.39,"xlo":13.40,"xhi":14.52,"ylo":0.29,"yhi":0.49,"c":"R"}
    ],
    "zones": [
      {"from":1,"to":3.12,"zone":"outer"},
      {"from":3.12,"to":6.93,"zone":"inner"},
      {"from":12.18,"to":14.52,"zone":"inner"},
      {"from":14.52,"to":16,"zone":"outer"}
    ],
    "caption": [
      {"n":1,"k":"head","t":"Figure 5 Log₂ ratio distribution for MTRC dataset 2A-3"},
      {"n":1,"k":"tail","t":". (A) RI-"},
      {"n":2,"k":"body","t":"plot. Each analyte is represented by an open circle that is colored"},
      {"n":3,"k":"body","t":"for tissue selective expression. Green = liver RNA-selective (target"},
      {"n":4,"k":"body","t":"log₂ ratio of 0.585), blue = skeletal muscle RNA-selective (target log₂"},
      {"n":5,"k":"body","t":"ratio of -0.585), and red = HBRR-selective (target log₂ ratio of 0). (B)"},
      {"n":6,"k":"body","t":"LRD-plot. Same format as for Figure 1."}
    ]
  },
  "vconcat": [
    {
      "width": 531.6,
      "height": 206.7,
      "layer": [
        {
          "data": {"values": [{"frame": 1}]},
          "mark": {"type": "rect", "fill": null, "stroke": "#333333", "strokeWidth": 1.5, "cornerRadius": 11, "x": -57.7, "y": -18.5, "x2": 574, "y2": 622},
          "encoding": {}
        },
        {
          "data": {"name": "ri"},
          "mark": {"type": "point", "filled": false, "size": 54, "strokeWidth": 1, "opacity": 1},
          "encoding": {
            "x": {"field": "x", "type": "quantitative", "scale": {"domain": [1, 16], "nice": false},
                  "axis": {"values": [1,2,3,4,5,6,7,8,9,10,11,12,13,14,15,16], "tickCount": 30, "labelOverlap": false, "grid": false, "title": "Average Log₂ Intensity", "labelPadding": 2, "titlePadding": 4}},
            "y": {"field": "y", "type": "quantitative", "scale": {"domain": [-3, 3], "nice": false},
                  "axis": {"values": [-3,-2,-1,0,1,2,3], "tickCount": 20, "labelOverlap": false, "grid": true, "gridColor": "#c8c8c8", "gridWidth": 1.5, "title": "Log₂ Ratio", "labelPadding": 4, "titlePadding": 8}},
            "color": {"field": "c", "type": "nominal", "scale": {"domain": ["G", "R", "B"], "range": ["#2e8b45", "#ee2a2a", "#3b5cb8"]}, "legend": null}
          }
        },
        {
          "data": {"values": [{"panel": "A"}]},
          "mark": {"type": "text", "fontSize": 19, "fontWeight": "bold", "font": "Liberation Sans", "color": "#111111", "align": "center", "baseline": "middle"},
          "encoding": {"x": {"datum": 16.38}, "y": {"datum": 2.48}, "text": {"field": "panel"}}
        }
      ]
    },
    {
      "width": 531.6,
      "height": 137.3,
      "resolve": {"scale": {"color": "independent"}},
      "layer": [
        {
          "data": {"name": "zones"},
          "mark": {"type": "rect"},
          "encoding": {
            "x": {"field": "from", "type": "quantitative", "scale": {"domain": [1, 16], "nice": false},
                  "axis": {"values": [1,2,3,4,5,6,7,8,9,10,11,12,13,14,15,16], "tickCount": 30, "labelOverlap": false, "grid": false, "title": "Average Log₂ Intensity", "labelPadding": 2, "titlePadding": 4}},
            "x2": {"field": "to"},
            "y": {"datum": -0.5, "type": "quantitative", "scale": {"domain": [-0.5, 1.5], "nice": false},
                  "axis": {"values": [0, 1], "tickCount": 20, "labelOverlap": false, "ticks": false, "grid": false, "title": "Log₂ Ratio Deviation", "labelPadding": 8, "titlePadding": 9}},
            "y2": {"datum": 1.5},
            "color": {"field": "zone", "type": "nominal", "scale": {"domain": ["outer", "inner"], "range": ["#c0bfbd", "#dcdcdc"]}, "legend": null}
          }
        },
        {
          "data": {"values": [{"v": 0}, {"v": 1}]},
          "mark": {"type": "rule", "color": "#8c8c8c", "strokeWidth": 1.5},
          "encoding": {"y": {"field": "v", "type": "quantitative", "title": "Log₂ Ratio Deviation"}}
        },
        {
          "data": {"values": [{"target": 0.16}]},
          "mark": {"type": "rule", "color": "#555555", "strokeWidth": 1.2, "strokeDash": [9, 5]},
          "encoding": {"y": {"field": "target", "type": "quantitative", "title": "Log₂ Ratio Deviation"}}
        },
        {
          "data": {"name": "lrd"},
          "mark": {"type": "rule", "color": "#111111", "strokeWidth": 1.5},
          "encoding": {
            "x": {"field": "xlo", "type": "quantitative", "title": "Average Log₂ Intensity"},
            "x2": {"field": "xhi"},
            "y": {"field": "y", "type": "quantitative", "title": "Log₂ Ratio Deviation"}
          }
        },
        {
          "data": {"name": "lrd"},
          "mark": {"type": "rule", "color": "#111111", "strokeWidth": 1.5},
          "encoding": {
            "x": {"field": "x", "type": "quantitative", "title": "Average Log₂ Intensity"},
            "y": {"field": "ylo", "type": "quantitative", "title": "Log₂ Ratio Deviation"},
            "y2": {"field": "yhi"}
          }
        },
        {
          "data": {"name": "lrd"},
          "mark": {"type": "circle", "size": 75, "stroke": "#222222", "strokeWidth": 0.6, "opacity": 1},
          "encoding": {
            "x": {"field": "x", "type": "quantitative", "title": "Average Log₂ Intensity"},
            "y": {"field": "y", "type": "quantitative", "title": "Log₂ Ratio Deviation"},
            "color": {"field": "c", "type": "nominal", "scale": {"domain": ["R", "G"], "range": ["#ee2222", "#66bb33"]}, "legend": null}
          }
        },
        {
          "data": {"values": [{"panel": "B"}]},
          "mark": {"type": "text", "fontSize": 19, "fontWeight": "bold", "font": "Liberation Sans", "color": "#111111", "align": "center", "baseline": "middle"},
          "encoding": {"x": {"datum": 16.38}, "y": {"datum": 1.25}, "text": {"field": "panel"}}
        }
      ]
    },
    {
      "width": 531.6,
      "height": 125,
      "view": {"stroke": null},
      "data": {"name": "caption"},
      "layer": [
        {
          "transform": [{"filter": "datum.k == 'body'"}],
          "mark": {"type": "text", "align": "left", "baseline": "middle", "font": "Open Sans", "fontSize": 18, "color": "#222222", "x": -41.7, "dy": 3.5},
          "encoding": {"y": {"field": "n", "type": "ordinal", "scale": {"type": "point", "padding": 0}, "axis": null}, "text": {"field": "t"}}
        },
        {
          "transform": [{"filter": "datum.k == 'head'"}],
          "mark": {"type": "text", "align": "left", "baseline": "middle", "font": "Open Sans", "fontSize": 19.5, "fontWeight": "bold", "color": "#222222", "x": -41.7, "dy": 3.5},
          "encoding": {"y": {"field": "n", "type": "ordinal", "axis": null}, "text": {"field": "t"}}
        },
        {
          "transform": [{"filter": "datum.k == 'tail'"}],
          "mark": {"type": "text", "align": "left", "baseline": "middle", "font": "Open Sans", "fontSize": 18, "color": "#222222", "x": 476.5, "dy": 3.5},
          "encoding": {"y": {"field": "n", "type": "ordinal", "axis": null}, "text": {"field": "t"}}
        }
      ]
    }
  ]
}
